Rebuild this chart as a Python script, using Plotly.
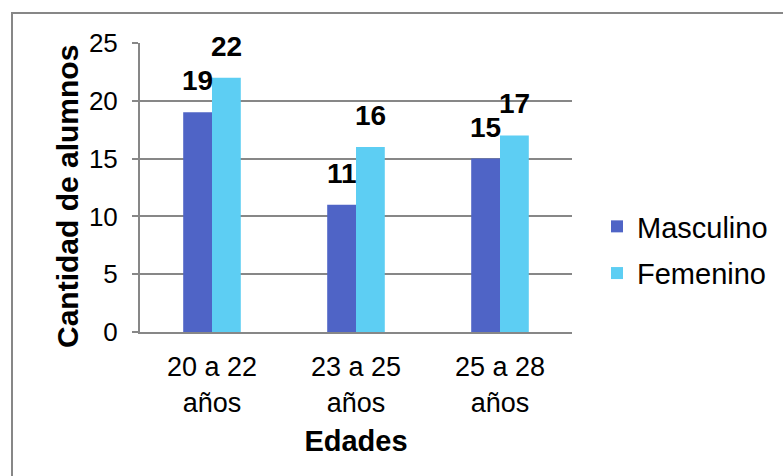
import plotly.graph_objects as go

# Datos: alumnos por rango de edad y sexo
categorias = ["20 a 22<br>años", "23 a 25<br>años", "25 a 28<br>años"]
masculino = [19, 11, 15]
femenino = [22, 16, 17]
series = ["Masculino", "Femenino"]
colores = ["#4F64C6", "#5DCEF3"]

W, H = 783, 476
L, R, T, B = 140, 211, 43, 144
plot_w = W - L - R
plot_h = H - T - B
FONT = "Liberation Sans, Arial, sans-serif"
GRIS = "#878787"

fig = go.Figure()
for nombre, valores, color in zip(series, [masculino, femenino], colores):
    fig.add_trace(go.Bar(
        x=categorias, y=valores, name=nombre,
        marker=dict(color=color, line=dict(width=0)),
        legendgroup=nombre,
    ))

# Etiquetas de valor sobre cada barra
ancho_barra = plot_w / len(categorias) * 0.2
for i, valores in enumerate([masculino, femenino]):
    desplaz = (-0.5 if i == 0 else 0.5) * ancho_barra
    for cat, v in zip(categorias, valores):
        fig.add_annotation(
            x=cat, y=v, text=f"<b>{v}</b>", showarrow=False,
            xshift=desplaz, yshift=14, yanchor="bottom",
            font=dict(family=FONT, size=28, color="black"),
        )

# Título del eje vertical
fig.add_annotation(
    xref="paper", yref="paper",
    x=(68 - L) / plot_w, y=(T + plot_h - 197) / plot_h,
    text="<b>Cantidad de alumnos</b>", textangle=-90, showarrow=False,
    xanchor="center", yanchor="middle",
    font=dict(family=FONT, size=30, color="black"),
)

# Marco exterior del gráfico
fig.add_shape(
    type="rect", xref="paper", yref="paper",
    x0=(12 - L) / plot_w, x1=(W + 20 - L) / plot_w,
    y0=-(H + 20 - T - plot_h) / plot_h, y1=(T + plot_h - 13) / plot_h,
    line=dict(color=GRIS, width=2), fillcolor="rgba(0,0,0,0)", layer="below",
)

fig.update_layout(
    width=W, height=H,
    margin=dict(l=L, r=R, t=T, b=B, autoexpand=False),
    paper_bgcolor="white", plot_bgcolor="white",
    barmode="group", bargap=0.6, bargroupgap=0,
    font=dict(family=FONT, color="black"),
    showlegend=True,
    legend=dict(
        x=(597 - L) / plot_w, xanchor="left",
        y=(T + plot_h - 250) / plot_h, yanchor="middle",
        font=dict(family=FONT, size=29, color="black"),
        tracegroupgap=6, bgcolor="rgba(0,0,0,0)",
    ),
    xaxis=dict(
        showgrid=False, showline=True, linecolor=GRIS, linewidth=2,
        ticks="", ticklabelstandoff=10, tickfont=dict(size=27, color="black"),
        title=dict(text="<b>Edades</b>", font=dict(size=29, color="black"), standoff=14),
    ),
    yaxis=dict(
        range=[0, 25], dtick=5, showgrid=True, gridcolor=GRIS, gridwidth=1.5,
        showline=True, linecolor=GRIS, linewidth=2, zeroline=False,
        ticks="outside", ticklen=6, tickcolor=GRIS, tickwidth=1.5,
        ticklabelstandoff=9, tickfont=dict(size=26, color="black"),
    ),
)

fig.write_html("out.html")
